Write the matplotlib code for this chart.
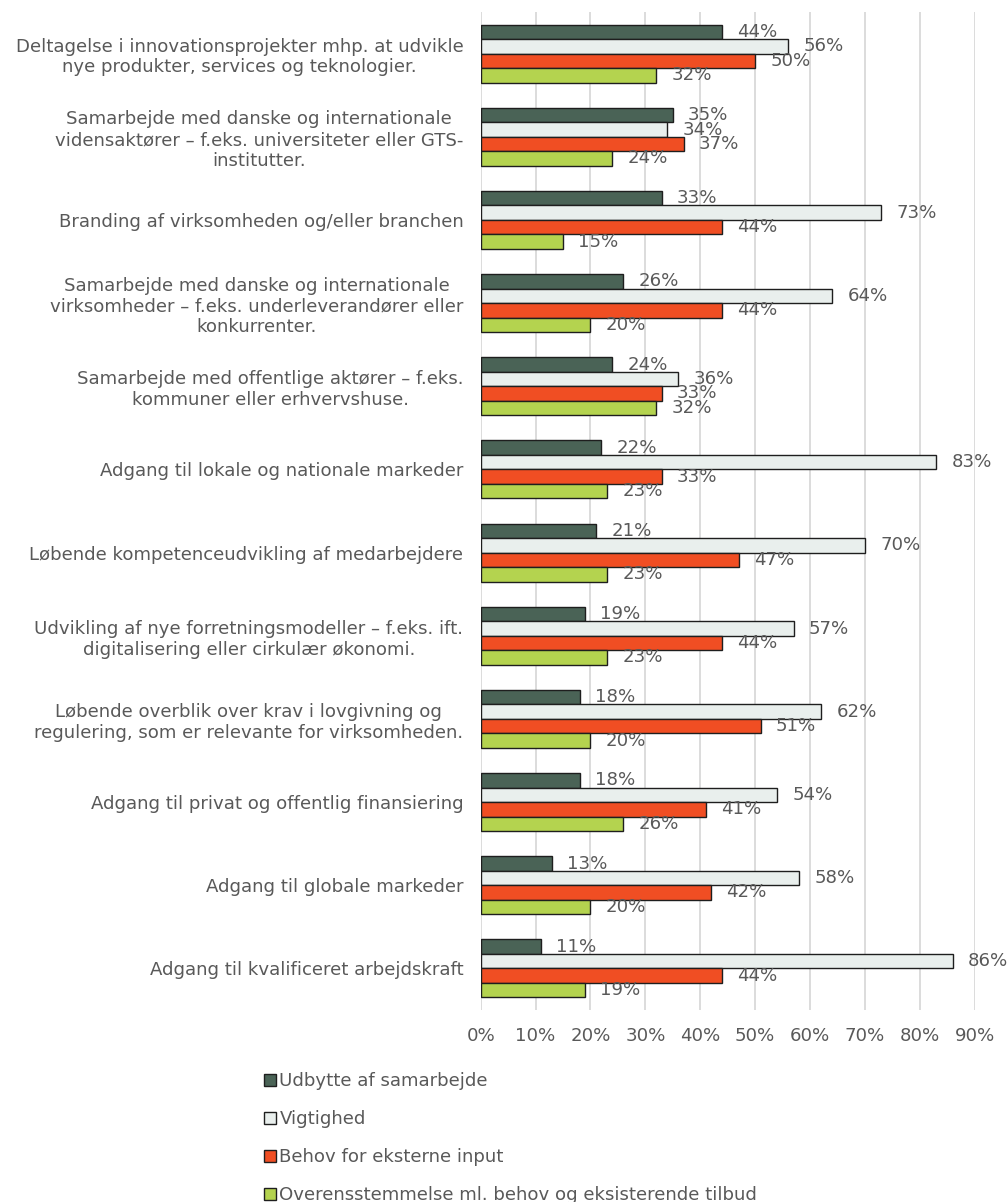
import numpy as np
import matplotlib.pyplot as plt
from matplotlib.patches import Patch

categories = [
    "Deltagelse i innovationsprojekter mhp. at udvikle\nnye produkter, services og teknologier.",
    "Samarbejde med danske og internationale\nvidensaktører – f.eks. universiteter eller GTS-\ninstitutter.",
    "Branding af virksomheden og/eller branchen",
    "Samarbejde med danske og internationale\nvirksomheder – f.eks. underleverandører eller\nkonkurrenter.",
    "Samarbejde med offentlige aktører – f.eks.\nkommuner eller erhvervshuse.",
    "Adgang til lokale og nationale markeder",
    "Løbende kompetenceudvikling af medarbejdere",
    "Udvikling af nye forretningsmodeller – f.eks. ift.\ndigitalisering eller cirkulær økonomi.",
    "Løbende overblik over krav i lovgivning og\nregulering, som er relevante for virksomheden.",
    "Adgang til privat og offentlig finansiering",
    "Adgang til globale markeder",
    "Adgang til kvalificeret arbejdskraft",
]

udbytte = [44, 35, 33, 26, 24, 22, 21, 19, 18, 18, 13, 11]
vigtighed = [56, 34, 73, 64, 36, 83, 70, 57, 62, 54, 58, 86]
behov = [50, 37, 44, 44, 33, 33, 47, 44, 51, 41, 42, 44]
overens = [32, 24, 15, 20, 32, 23, 23, 23, 20, 26, 20, 19]

series_names = ["Udbytte af samarbejde", "Vigtighed", "Behov for eksterne input",
                "Overensstemmelse ml. behov og eksisterende tilbud"]
colors = ["#4a6356", "#e9efed", "#f04e23", "#b4d34f"]
text_col = "#595959"
fs = 13.1

fig = plt.figure(figsize=(10.08, 12.02), dpi=100)
ax = fig.add_axes([480.7 / 1008, 1 - 1010 / 1202, 494 / 1008, 998 / 1202])

y = np.arange(len(categories))
h = 0.174
series = [udbytte, vigtighed, behov, overens]
for i, vals in enumerate(series):
    pos = y + (i - 1.5) * h
    ax.barh(pos, vals, height=h, color=colors[i], edgecolor="#1e1e1e",
            linewidth=1.0, zorder=3)
    for p, v in zip(pos, vals):
        ax.annotate(f"{v}%", (v, p), xytext=(11, 0), textcoords="offset points",
                    ha="left", va="center", fontsize=fs, color=text_col, zorder=4)

ax.set_xlim(0, 90)
ax.set_ylim(len(categories) - 0.5, -0.5)
ax.set_xticks(np.arange(0, 91, 10))
ax.set_xticklabels([f"{t}%" for t in range(0, 91, 10)])
ax.set_yticks(y)
ax.set_yticklabels(categories)
for t in ax.get_yticklabels():
    t.set_multialignment("center")
ax.tick_params(axis="both", length=0, labelsize=fs, labelcolor=text_col)
ax.tick_params(axis="y", pad=12.5)
ax.tick_params(axis="x", pad=12)
ax.grid(axis="x", color="#d9d9d9", linewidth=1.3, zorder=0)
for s in ax.spines.values():
    s.set_visible(False)

handles = [Patch(facecolor=c, edgecolor="#1e1e1e", linewidth=1.0) for c in colors]
fig.legend(handles, series_names, loc="upper left", frameon=False,
           bbox_to_anchor=(264 / 1008, 1 - 1072 / 1202), borderpad=0,
           borderaxespad=0, fontsize=fs, labelcolor=text_col,
           handlelength=0.65, handleheight=0.65, handletextpad=0.2,
           labelspacing=1.1)

fig.savefig("out.png", dpi=100)
